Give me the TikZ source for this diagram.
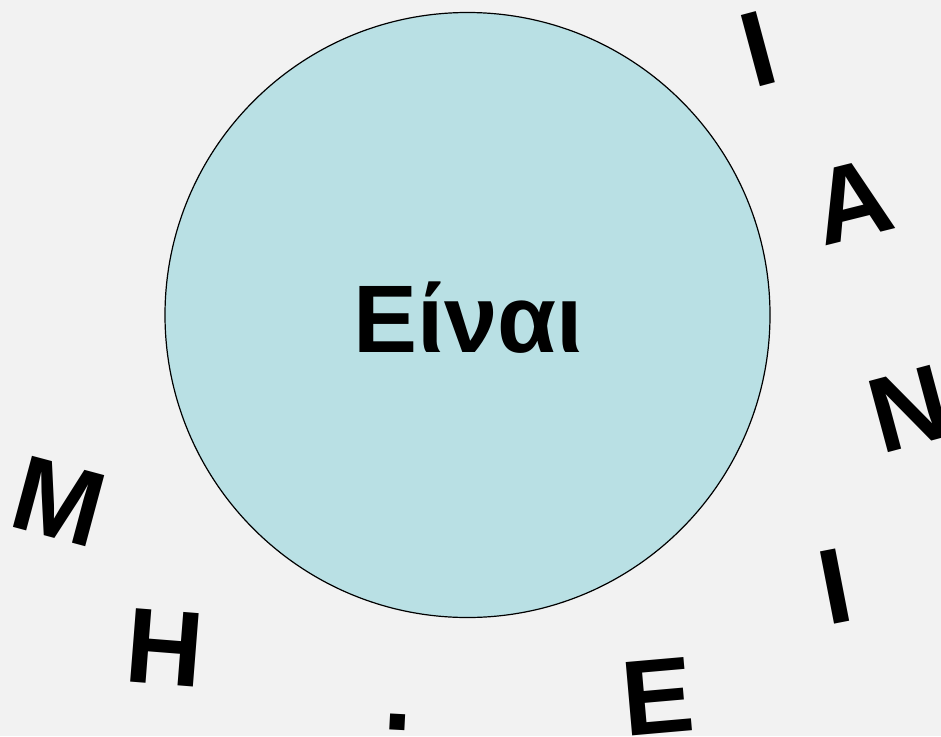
\documentclass[tikz,border=0pt]{standalone}
\usepackage{fontspec}
\setmainfont{Liberation Sans}
\definecolor{bgc}{HTML}{F2F2F2}
\definecolor{circc}{HTML}{B9E0E4}
\begin{document}
\begin{tikzpicture}[x=1pt,y=-1pt,
  letter/.style={font=\fontsize{107}{107}\selectfont\bfseries, inner sep=0pt, text height=76.6pt, text depth=0pt, anchor=center},
  title/.style={font=\fontsize{96}{96}\selectfont\bfseries, inner sep=0pt, anchor=base}]
\fill[bgc] (0,0) rectangle (941,736);
\useasboundingbox (0,0) rectangle (941,736);
\node[circle, draw=black, line width=1.2pt, fill=circc, minimum size=605pt, inner sep=0pt] (c) at (467.5,315) {};
\node[title] (t) at (468.5,352) {Είναι};
\node[letter, rotate=15] (l1) at (758,48) {Ι};
\node[letter, rotate=14] (l2) at (852,200) {Α};
\node[letter, rotate=15] (l3) at (909,407) {Ν};
\node[letter, rotate=11] (l4) at (835,585) {Ι};
\node[letter, rotate=5] (l5) at (657.5,695) {Ε};
\node[font=\fontsize{107}{107}\selectfont\bfseries, inner sep=0pt, anchor=base, rotate=-3] (l6) at (397,730) {.};
\node[letter, rotate=-4.5] (l7) at (165.5,646.5) {Η};
\node[letter, rotate=-15] (l8) at (59,500) {Μ};
\end{tikzpicture}
\end{document}
